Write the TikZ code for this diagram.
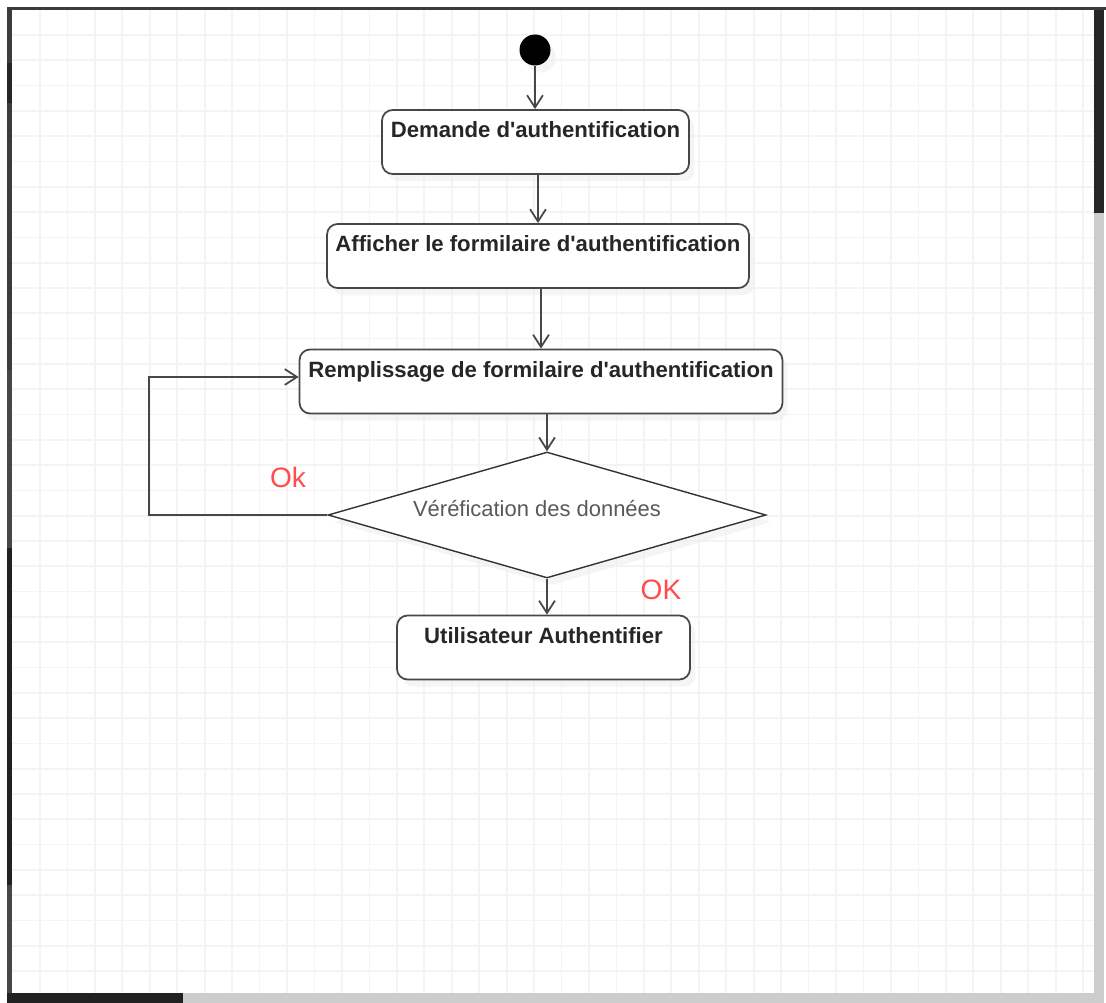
\documentclass[tikz,border=0pt]{standalone}
\usepackage{fontspec}
\setmainfont{Liberation Sans}[Ligatures=TeXOff]
\usetikzlibrary{shapes.geometric,arrows.meta,shadows}

\definecolor{trait}{HTML}{474747}
\definecolor{rouge}{HTML}{FF4D4D}
\definecolor{cadre}{HTML}{3A3D3D}
\definecolor{grille}{HTML}{F4F4F4}

\tikzset{
	activite/.style={rectangle, draw=trait, line width=1pt, rounded corners=6pt, fill=white,
		inner sep=0pt, text height=0.56cm, text depth=0.72cm, text=black!85,
		font=\fontsize{12.6}{15}\selectfont\bfseries,
		drop shadow={shadow xshift=3pt, shadow yshift=-4pt, fill=black!7}},
	decision/.style={diamond, aspect=3.48, draw=black!80, line width=0.8pt, fill=white, inner sep=0pt,
		minimum width=8.76cm, minimum height=2.52cm, text height=0.3cm, text depth=0.22cm,
		text=black!65, font=\fontsize{12.5}{15}\selectfont,
		drop shadow={shadow xshift=3pt, shadow yshift=-4pt, fill=black!7}},
	fleche/.style={draw=trait, line width=1pt, -{Straight Barb[length=7pt,width=9pt]}},
	garde/.style={text=rouge, font=\fontsize{16}{19}\selectfont},
}

\begin{document}
\begin{tikzpicture}[x=0.02cm, y=-0.02cm]
		\useasboundingbox (0,0) rectangle (1106,1003);
		% fond quadrille de l'editeur
		\fill [white] (0,0) rectangle (1106,1003);
		\foreach \i in {0,...,38}
			\draw [grille, line width=1pt] ({40+27.45*\i},10) -- ({40+27.45*\i},993);
		\foreach \j in {0,...,37}
			\draw [grille, line width=1pt] (12,{35+25.3*\j}) -- (1094,{35+25.3*\j});
		% bords et barres de defilement
		\fill [cadre] (7,7) rectangle (1106,10);
		\fill [cadre] (7,10) rectangle (12,370);
		\fill [black!85] (7,63) rectangle (12,103);
		\fill [black!72] (7,370) rectangle (12,993);
		\fill [black!87] (7,548) rectangle (12,885);
		\fill [black!20] (1094,10) rectangle (1104,1003);
		\fill [black!85] (1094,10) rectangle (1104,213);
		\fill [black!20] (12,993) rectangle (1104,1003);
		\fill [black!87] (7,993) rectangle (183,1003);

		% etat initial
		\node (debut) at (535,50) [circle, fill=black, inner sep=0pt, minimum size=0.62cm,
			drop shadow={shadow xshift=3pt, shadow yshift=-4pt, fill=black!7}] {};
		% activites
		\node (demande) at (535.5,142) [activite, minimum width=6.14cm] {Demande d'authentification};
		\node (afficher) at (538,256) [activite, minimum width=8.44cm] {Afficher le formilaire d'authentification};
		\node (remplir) at (541,381.5) [activite, minimum width=9.66cm] {Remplissage de formilaire d'authentification};
		% le texte du losange est un peu decale vers la gauche
		\node (verif) at (547,515) [decision] {Véréfication des données\kern0.4cm};
		\node (fin) at (543.5,647.5) [activite, minimum width=5.86cm] {Utilisateur Authentifier};

		% transitions
		\draw [fleche] (debut) -- (debut |- demande.north);
		\draw [fleche] (afficher.north |- demande.south) -- (afficher.north);
		\draw [fleche] (remplir.north |- afficher.south) -- (remplir.north);
		\draw [fleche] (verif.north |- remplir.south) -- (verif.north);
		\draw [fleche] (verif.south) -- (verif.south |- fin.north);
		% retour vers le remplissage
		\coordinate (coin) at (149,377);
		\draw [fleche] (verif.west) -| (coin) -- (remplir.west |- coin);

		% gardes
		\node (gardeok) at (288,477) [garde] {Ok};
		\node (gardeOK) at (661,590) [garde] {OK};
	\end{tikzpicture}
\end{document}
